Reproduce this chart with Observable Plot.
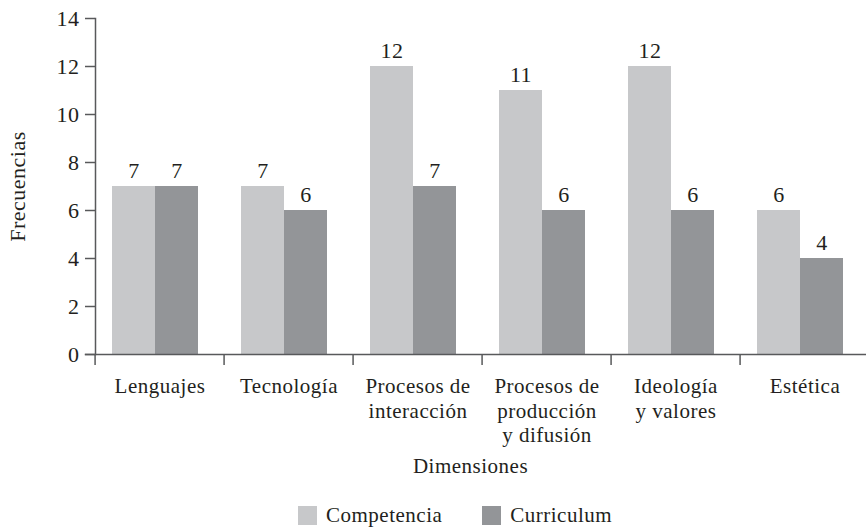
<!DOCTYPE html>
<html><head><meta charset="utf-8">
<script src="https://cdn.jsdelivr.net/npm/d3@7"></script>
<script src="https://cdn.jsdelivr.net/npm/@observablehq/plot@0.6"></script>
<style>
body{margin:0;background:#fff;font-family:"Liberation Serif",serif;color:#231f20;}
#wrap{position:relative;width:866px;height:528px;}
#legend{position:absolute;left:298px;top:505px;display:flex;align-items:center;font-size:21px;letter-spacing:0.5px;line-height:20px;}
#legend .item{display:flex;align-items:center;margin-right:40px;}
#legend .sw{width:19px;height:19px;margin-right:9px;}
svg text{font-family:"Liberation Serif",serif;}
</style></head><body>
<div id="wrap"><div id="chart"></div><div id="legend"></div></div>
<script>
const categories = ["Lenguajes", "Tecnología", "Procesos de\ninteracción", "Procesos de\nproducción\ny difusión", "Ideología\ny valores", "Estética"];
const series = ["Competencia", "Curriculum"];
const competencia = [7, 7, 12, 11, 12, 6];
const curriculum = [7, 6, 7, 6, 6, 4];
const yTicks = [0, 2, 4, 6, 8, 10, 12, 14];
const colors = ["#c7c8ca", "#939598"];
const yLabel = "Frecuencias";
const xLabel = "Dimensiones";

const data = categories.flatMap((c, i) => [
  {cat: c, serie: series[0], value: competencia[i]},
  {cat: c, serie: series[1], value: curriculum[i]}
]);

const axisColor = "#58595b";
const fs = 21;
const fxRange = [92, 871];
const halfBand = (fxRange[1] - fxRange[0]) / categories.length / 2;

const chart = Plot.plot({
  width: 866, height: 482,
  marginLeft: 92, marginRight: 16, marginTop: 18, marginBottom: 128,
  style: {fontFamily: "'Liberation Serif', serif", fontSize: "21px", color: "#231f20", background: "#fff", letterSpacing: "0.5px"},
  fx: {domain: categories, range: fxRange, padding: 0, axis: null},
  x: {domain: series, paddingInner: 0, paddingOuter: 0.5, align: 0.4, axis: null},
  y: {domain: [0, 14], axis: null},
  color: {domain: series, range: colors},
  marks: [
    Plot.barY(data, {fx: "cat", x: "serie", y: "value", fill: "serie"}),
    Plot.text(data, {fx: "cat", x: "serie", y: "value", text: d => String(d.value), dy: -9, lineAnchor: "bottom", fill: "#231f20", fontSize: 22}),
    Plot.axisY({ticks: yTicks, tickSize: 10, tickPadding: 6, tickFormat: d => String(d), stroke: axisColor, strokeWidth: 1.5, fill: "#231f20", fontSize: 22,
      label: yLabel, labelAnchor: "center", labelOffset: 86, labelArrow: "none"}),
    Plot.axisFx({anchor: "bottom", tickSize: 11, tickFormat: () => "", dx: -halfBand, label: null, stroke: axisColor, strokeWidth: 1.5}),
    Plot.axisFx({anchor: "bottom", tickSize: 0, tickPadding: 21, lineHeight: 1.17, label: null, fill: "#231f20", fontSize: fs}),
    Plot.frame({anchor: "left", facet: "super", stroke: axisColor, strokeWidth: 1.5}),
    Plot.frame({anchor: "bottom", facet: "super", insetLeft: -10, stroke: axisColor, strokeWidth: 1.5}),
    Plot.text([xLabel], {frameAnchor: "bottom", facet: "super", dx: -12, dy: 118, fill: "#231f20", fontSize: fs})
  ]
});
document.getElementById("chart").appendChild(chart);

const legend = document.getElementById("legend");
series.forEach((s, i) => {
  const item = document.createElement("div");
  item.className = "item";
  const sw = document.createElement("span");
  sw.className = "sw";
  sw.style.background = colors[i];
  const t = document.createElement("span");
  t.textContent = s;
  item.appendChild(sw); item.appendChild(t);
  legend.appendChild(item);
});
</script></body></html>
